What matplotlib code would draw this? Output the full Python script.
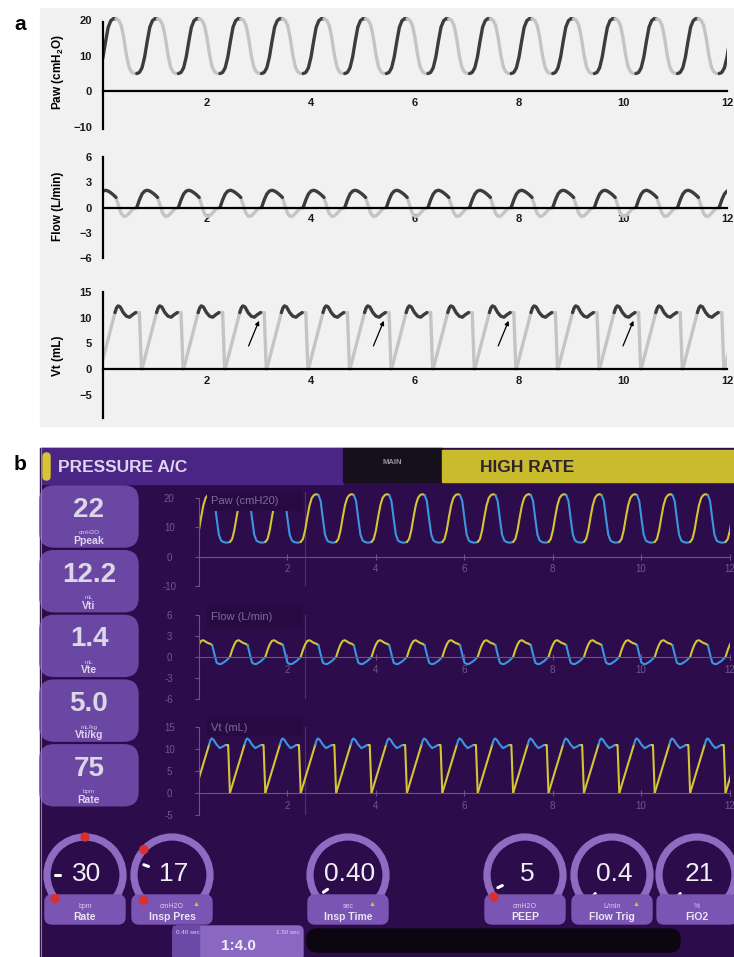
import numpy as np
import matplotlib
matplotlib.use("Agg")
import matplotlib.pyplot as plt
from matplotlib.patches import Rectangle, FancyBboxPatch, Circle

W, H = 734, 957  # canvas in pixels

plt.rcParams.update({
    "font.family": ["Liberation Sans", "DejaVu Sans"],
    "mathtext.fontset": "custom",
    "mathtext.rm": "Liberation Sans",
    "mathtext.bf": "Liberation Sans:bold",
    "mathtext.default": "bf",
})

# ---------------- panel a: model waveforms (one breath, repeated at each onset) ----
T_INSP = [0.00, 0.05, 0.10, 0.15, 0.20, 0.25, 0.30, 0.35, 0.40]
T_EXP = [0.40, 0.45, 0.50, 0.55, 0.60, 0.65, 0.70, 0.75, 0.80]

A_ONSETS = [-0.15, 0.65, 1.45, 2.25, 3.05, 3.85, 4.65, 5.45, 6.25, 7.05,
            7.85, 8.65, 9.45, 10.25, 11.05, 11.85]
A_PAW_INSP = [5.0, 5.3, 6.6, 9.6, 14.0, 18.0, 19.8, 20.4, 20.3]
A_PAW_EXP = [20.3, 20.0, 18.5, 15.0, 10.2, 6.8, 5.4, 5.0, 5.0]
A_FLOW_INSP = [0.0, 0.9, 1.6, 1.95, 2.05, 1.95, 1.75, 1.5, 1.2]
A_FLOW_EXP = [1.2, 0.2, -0.7, -1.05, -1.0, -0.7, -0.35, -0.1, 0.0]

A_VT_ONSETS = [-0.05, 0.75, 1.55, 2.35, 3.15, 3.95, 4.75, 5.55, 6.35, 7.15,
               7.95, 8.75, 9.55, 10.35, 11.15, 11.95]
A_VT_RISE_T = [0.00, 0.28]
A_VT_RISE = [0.0, 11.0]
A_VT_TOP_T = [0.28, 0.31, 0.34, 0.38, 0.44, 0.50, 0.56, 0.62, 0.68]
A_VT_TOP = [11.0, 11.9, 12.3, 12.1, 11.0, 10.3, 10.1, 10.6, 11.0]
A_VT_FALL_T = [0.68, 0.75, 0.79, 0.80]
A_VT_FALL = [11.0, 11.0, 0.0, 0.0]

ARROW_X = [3.0, 5.4, 7.8, 10.2]

# ---------------- panel b: ventilator screen traces -------------------------------
B_ONSETS = [-0.09, 0.71, 1.51, 2.31, 3.11, 3.91, 4.71, 5.51, 6.31, 7.11,
            7.91, 8.71, 9.51, 10.31, 11.11, 11.91]
B_PAW_INSP = [5.0, 6.0, 9.0, 13.5, 17.5, 20.0, 21.0, 21.3, 21.0]
B_PAW_EXP = [21.0, 19.0, 13.0, 7.5, 5.5, 5.0, 4.8, 4.8, 5.0]
B_FLOW_INSP = [0.0, 1.0, 1.8, 2.3, 2.4, 2.2, 2.0, 1.9, 1.7]
B_FLOW_EXP = [1.7, 0.4, -0.8, -1.0, -1.0, -0.8, -0.6, -0.3, 0.0]
B_VT_RISE_T = [0.00, 0.33]
B_VT_RISE = [0.0, 11.0]
B_VT_TOP_T = [0.33, 0.36, 0.39, 0.43, 0.50, 0.57, 0.63, 0.70]
B_VT_TOP = [11.0, 12.0, 12.4, 12.1, 11.0, 10.2, 10.5, 10.9]
B_VT_FALL_T = [0.70, 0.76, 0.80]
B_VT_FALL = [10.9, 10.9, 0.0]
SWEEP_T = 2.4

BOX_VALUES = ["22", "12.2", "1.4", "5.0", "75"]
BOX_UNITS = ["cmH2O", "mL", "mL", "mL/kg", "bpm"]
BOX_NAMES = ["Ppeak", "Vti", "Vte", "Vti/kg", "Rate"]

DIAL_VALUES = ["30", "17", "0.40", "5", "0.4", "21"]
DIAL_UNITS = ["bpm", "cmH2O", "sec", "cmH2O", "L/min", "%"]
DIAL_NAMES = ["Rate", "Insp Pres", "Insp Time", "PEEP", "Flow Trig", "FiO2"]
DIAL_ALERT = [False, True, True, False, True, False]
DIAL_POINTER = [180, 160, 215, 205, 228, 228]      # knob angle, degrees
DIAL_LIMITS = [[90, 218], [138, 222], [], [215], [], []]
IE_RATIO = "1:4.0"
IE_TIMES = ["0.40 sec", "1.50 sec"]

DARK, LIGHT = "#3c3c3c", "#c4c4c4"
YEL, BLU = "#d4c534", "#3c96de"
BG_B = "#2d0c4b"
BOX_B = "#6b47a4"
TICK_B = "#6c5a8c"


def draw_breaths(ax, onsets, pieces, lw):
    for t0 in onsets:
        for ts, vs, color in pieces:
            ax.plot(np.add(t0, ts), vs, color=color, lw=lw,
                    solid_capstyle="round", solid_joinstyle="round")


def px_axes(fig, x0, y0, x1, y1):
    ax = fig.add_axes([x0 / W, 1 - y1 / H, (x1 - x0) / W, (y1 - y0) / H])
    ax.set_facecolor("none")
    ax.set_xlim(0, 12)
    return ax


def style_a(ax, ylim, yticks, bounds):
    ax.set_ylim(*ylim)
    for s in ("top", "right"):
        ax.spines[s].set_visible(False)
    ax.spines["bottom"].set_position(("data", 0))
    ax.spines["left"].set_bounds(*bounds)
    for s in ("left", "bottom"):
        ax.spines[s].set_linewidth(1.6)
        ax.spines[s].set_color("black")
    ax.set_xticks([2, 4, 6, 8, 10, 12])
    ax.set_yticks(yticks)
    ax.tick_params(length=0, labelsize=8, colors="#1a1a1a")
    ax.tick_params(axis="y", pad=8)
    ax.tick_params(axis="x", pad=5)
    for lab in ax.get_xticklabels() + ax.get_yticklabels():
        lab.set_fontweight("bold")


def style_b(ax, ylim, yticks, label, label_y, box_y):
    ax.set_ylim(*ylim)
    for s in ("top", "right"):
        ax.spines[s].set_visible(False)
    ax.spines["bottom"].set_position(("data", 0))
    ax.spines["left"].set_bounds(yticks[-1], yticks[0])
    for s in ("left", "bottom"):
        ax.spines[s].set_linewidth(0.8)
        ax.spines[s].set_color("#6a5290")
    ax.set_xticks([2, 4, 6, 8, 10, 12])
    ax.set_yticks(yticks)
    ax.set_yticklabels([str(v) for v in yticks])
    ax.tick_params(axis="y", length=3, width=0.8, color="#6a5290", pad=18,
                   labelsize=7, labelcolor=TICK_B)
    ax.tick_params(axis="x", direction="inout", length=5, width=0.8, color="#6a5290",
                   pad=3, labelsize=7, labelcolor=TICK_B)
    for lab in ax.get_yticklabels():
        lab.set_horizontalalignment("center")
    ax.axvline(SWEEP_T, color="#4b3270", lw=0.8, zorder=1)
    ax.add_patch(Rectangle((0.2, box_y[0]), 2.15, box_y[1] - box_y[0], facecolor="#270a41",
                           edgecolor="none", zorder=4, clip_on=False))
    ax.text(0.28, label_y, label, color="#7d6a9c", fontsize=8, va="center", zorder=5)


fig = plt.figure(figsize=(W / 100, H / 100), dpi=100)
bg = fig.add_axes([0, 0, 1, 1])
bg.set_xlim(0, W)
bg.set_ylim(H, 0)
bg.axis("off")

# ---------------- panel a ----------------
bg.add_patch(Rectangle((40, 8), 694, 418, color="#f1f1f1"))
bg.text(20, 24, "a", fontsize=15, fontweight="bold", ha="center", va="center")
for txt, yc in ((r"Paw (cmH$_2$O)", 72), ("Flow (L/min)", 206), ("Vt (mL)", 356)):
    bg.text(58, yc, txt, rotation=90, fontsize=8.5, fontweight="bold", ha="center", va="center")

ax = px_axes(fig, 103, 12.9, 727, 128.8)
style_a(ax, (-10.5, 22), [20, 10, 0, -10], (-10.5, 19.5))
draw_breaths(ax, A_ONSETS, [(T_INSP, A_PAW_INSP, DARK), (T_EXP, A_PAW_EXP, LIGHT)], 2.4)

ax = px_axes(fig, 103, 155.3, 727, 259.7)
style_a(ax, (-6.2, 6.2), [6, 3, 0, -3, -6], (-6, 6))
draw_breaths(ax, A_ONSETS, [(T_EXP, A_FLOW_EXP, LIGHT), (T_INSP, A_FLOW_INSP, DARK)], 2.4)

ax = px_axes(fig, 103, 290.5, 727, 418.8)
style_a(ax, (-9.7, 15.3), [15, 10, 5, 0, -5], (-9.5, 15))
draw_breaths(ax, A_VT_ONSETS, [(A_VT_RISE_T, A_VT_RISE, LIGHT), (A_VT_FALL_T, A_VT_FALL, LIGHT),
                               (A_VT_TOP_T, A_VT_TOP, DARK)], 2.4)
for x in ARROW_X:
    ax.annotate("", xy=(x, 9.4), xytext=(x - 0.2, 4.5),
                arrowprops=dict(arrowstyle="-|>", color="black", lw=0.9,
                                mutation_scale=6, shrinkA=0, shrinkB=0))

# ---------------- panel b: screen chrome ----------------
bg.add_patch(Rectangle((40, 448), 694, 509, color=BG_B))
bg.plot([40.5, 40.5], [448, 957], color="#9c8a3a", lw=0.8)
bg.text(20, 465, "b", fontsize=15, fontweight="bold", ha="center", va="center")
bg.add_patch(Rectangle((41, 448), 302, 36, color="#4a2585"))
bg.add_patch(FancyBboxPatch((43, 453), 7, 27, boxstyle="round,pad=0,rounding_size=3.5",
                            color="#d6c634"))
bg.text(58, 467, "PRESSURE A/C", fontsize=12.5, fontweight="bold", color="#ddd5ec", va="center")
bg.add_patch(Rectangle((343, 448), 99, 34, color="#16101c"))
bg.text(392, 462, "MAIN", fontsize=5.5, fontweight="bold", color="#9a96a0", ha="center", va="center")
bg.add_patch(Rectangle((442, 450), 292, 32, color="#c9bb2c"))
bg.text(480, 467, "HIGH RATE", fontsize=12.5, fontweight="bold", color="#2c2230", va="center")

for i, (val, unit, name) in enumerate(zip(BOX_VALUES, BOX_UNITS, BOX_NAMES)):
    top = 486 + i * 64.7
    bg.add_patch(FancyBboxPatch((40, top), 98, 61, boxstyle="round,pad=0,rounding_size=14",
                                color=BOX_B))
    bg.text(89, top + 24, val, fontsize=20, fontweight="bold", color="#dcd7e6",
            ha="center", va="center")
    bg.text(89, top + 47, unit, fontsize=4.5, color="#d5cce6", ha="center", va="center")
    bg.text(89, top + 55, name, fontsize=7.5, fontweight="bold", color="#ddd5ec",
            ha="center", va="center")

# dials
DIAL_X = [85, 172, 348, 525, 612, 697]
R, CY = 38, 875
for cx, val, unit, name, alert, ptr, lims in zip(DIAL_X, DIAL_VALUES, DIAL_UNITS, DIAL_NAMES,
                                                 DIAL_ALERT, DIAL_POINTER, DIAL_LIMITS):
    bg.add_patch(Circle((cx, CY), R, fill=False, ec="#8d6cc2", lw=5.2))
    for a in lims:
        r = np.radians(a)
        bg.add_patch(Circle((cx + R * np.cos(r), CY - R * np.sin(r)), 4, color="#d83030", zorder=3))
    r = np.radians(ptr)
    bg.plot([cx + 25 * np.cos(r), cx + 30 * np.cos(r)], [CY - 25 * np.sin(r), CY - 30 * np.sin(r)],
            color="white", lw=2.2, solid_capstyle="round")
    bg.text(cx + 2, CY - 1, val, fontsize=19, color="#f0eef5", ha="center", va="center")
    bg.add_patch(FancyBboxPatch((cx - 40, 895), 80, 29, boxstyle="round,pad=0,rounding_size=7",
                                color="#7a55b3", zorder=2))
    bg.text(cx, 906, unit, fontsize=5, color="#d8d0ea", ha="center", va="center", zorder=3)
    if alert:
        bg.text(cx + 24, 905, "\u25b2", fontsize=5, color=YEL, ha="center", va="center", zorder=3)
    bg.text(cx, 916.5, name, fontsize=7.5, fontweight="bold", color="#eae4f4",
            ha="center", va="center", zorder=3)

# I:E ratio and message bar
bg.add_patch(FancyBboxPatch((173, 926), 130, 34, boxstyle="round,pad=0,rounding_size=5",
                            color="#8a68c2"))
bg.add_patch(Rectangle((173, 926), 26, 31, color="#6a4aa6"))
bg.text(176, 933, IE_TIMES[0], fontsize=4.5, color="#d9d0ee", va="center")
bg.text(300, 933, IE_TIMES[1], fontsize=4.5, color="#d9d0ee", ha="right", va="center")
bg.text(238, 946, IE_RATIO, fontsize=11, fontweight="bold", color="#f0ecf6",
        ha="center", va="center")
bg.add_patch(FancyBboxPatch((307, 929), 373, 23, boxstyle="round,pad=0,rounding_size=10",
                            color="#0c0610"))

# ---------------- panel b: traces ----------------
ax = px_axes(fig, 198.5, 492.1, 729.5, 586)
style_b(ax, (-10, 22), [20, 10, 0, -10], "Paw (cmH20)", 18.8, (15.5, 22.5))
draw_breaths(ax, B_ONSETS, [(T_INSP, B_PAW_INSP, YEL), (T_EXP, B_PAW_EXP, BLU)], 1.5)

ax = px_axes(fig, 198.5, 615, 729.5, 699)
style_b(ax, (-6, 6), [6, 3, 0, -3, -6], "Flow (L/min)", 5.7, (4.3, 7.4))
draw_breaths(ax, B_ONSETS, [(T_INSP, B_FLOW_INSP, YEL), (T_EXP, B_FLOW_EXP, BLU)], 1.5)

ax = px_axes(fig, 198.5, 727, 729.5, 815)
style_b(ax, (-5, 15), [15, 10, 5, 0, -5], "Vt (mL)", 14.8, (12.9, 17.2))
draw_breaths(ax, B_ONSETS, [(B_VT_RISE_T, B_VT_RISE, YEL), (B_VT_FALL_T, B_VT_FALL, YEL),
                            (B_VT_TOP_T, B_VT_TOP, BLU)], 1.5)

fig.savefig("out.png", dpi=100)
